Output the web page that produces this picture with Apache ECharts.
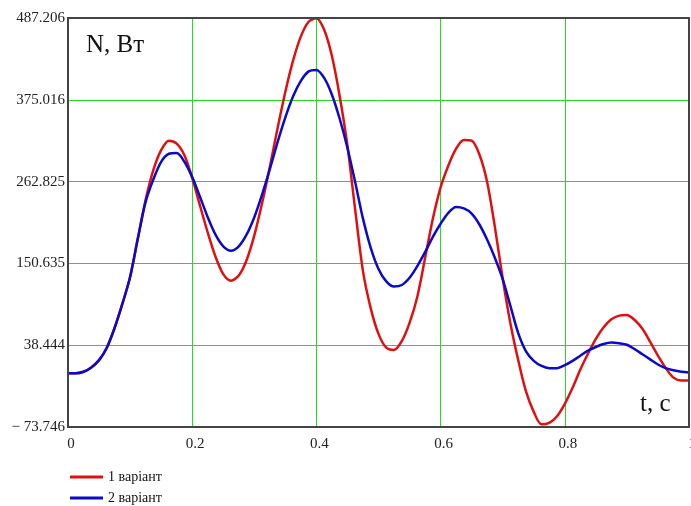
<!DOCTYPE html>
<html>
<head>
<meta charset="utf-8">
<script src="https://cdn.jsdelivr.net/npm/echarts@6/dist/echarts.min.js"></script>
<style>
  html, body { margin: 0; padding: 0; background: #fff; }
  #main { width: 691px; height: 506px; }
</style>
</head>
<body>
<div id="main"></div>
<script>
// t, c
const tValues = [0, 0.0125, 0.025, 0.0375, 0.05, 0.0625, 0.075, 0.0875, 0.1, 0.1125,
  0.125, 0.1375, 0.15, 0.1625, 0.175, 0.1875, 0.2, 0.2125, 0.225, 0.2375,
  0.25, 0.2625, 0.275, 0.2875, 0.3, 0.3125, 0.325, 0.3375, 0.35, 0.3625,
  0.375, 0.3875, 0.4, 0.4125, 0.425, 0.4375, 0.45, 0.4625, 0.475, 0.4875,
  0.5, 0.5125, 0.525, 0.5375, 0.55, 0.5625, 0.575, 0.5875, 0.6, 0.6125,
  0.625, 0.6375, 0.65, 0.6625, 0.675, 0.6875, 0.7, 0.7125, 0.725, 0.7375,
  0.75, 0.7625, 0.775, 0.7875, 0.8, 0.8125, 0.825, 0.8375, 0.85, 0.8625,
  0.875, 0.8875, 0.9, 0.9125, 0.925, 0.9375, 0.95, 0.9625, 0.975, 0.9875, 1];

// N, Вт — 1 варіант
const variant1 = [0, 0, 2, 8, 18, 35, 62, 95, 132, 185,
  238, 279, 306, 319, 315, 299, 268, 230, 193, 160,
  136, 127, 134, 155, 189, 233, 283, 336, 386, 429,
  462, 482, 487, 471, 435, 380, 312, 224, 140, 89,
  54, 35, 32, 44, 69, 105, 158, 212, 255, 285,
  308, 320, 319, 300, 262, 200, 130, 68, 18, -25,
  -53, -70, -68, -59, -42, -20, 5, 27, 47, 63,
  74, 79, 80, 73, 61, 43, 24, 7, -6, -10, -10];

// N, Вт — 2 варіант
const variant2 = [0, 0, 2, 8, 18, 35, 62, 95, 132, 185,
  235, 266, 290, 301, 302, 290, 269, 242, 214, 190,
  174, 168, 174, 190, 214, 245, 280, 317, 351, 380,
  401, 414, 416, 405, 382, 349, 309, 262, 212, 172,
  143, 126, 119, 121, 131, 147, 166, 187, 205, 220,
  228, 226, 219, 204, 183, 158, 129, 92, 55, 30,
  17, 10, 7, 7, 11, 17, 24, 31, 36, 40,
  42, 41, 39, 33, 26, 19, 12, 7, 4, 2, 1];

const seriesNames = ['1 варіант', '2 варіант'];
const yTickValues = [-73.746, 38.444, 150.635, 262.825, 375.016, 487.206];
const yTickLabels = ['\u2212 73.746', '38.444', '150.635', '262.825', '375.016', '487.206'];
const xTickValues = [0, 0.2, 0.4, 0.6, 0.8, 1];

const chart = echarts.init(document.getElementById('main'), null, { renderer: 'canvas' });

const serif = 'Liberation Serif';
const gridGreen = '#22dd22';

function pairs(values) {
  return tValues.map((t, i) => [t, values[i]]);
}

const option = {
  backgroundColor: '#fff',
  animation: false,
  grid: {
    left: 68,
    top: 18,
    width: 621,
    height: 409,
    outerBoundsMode: 'none',
    show: true,
    borderColor: '#444',
    borderWidth: 2,
    backgroundColor: 'transparent',
    z: 5
  },
  legend: {
    orient: 'vertical',
    left: 70,
    top: 470,
    height: 40,
    padding: 0,
    itemGap: 7,
    itemWidth: 33,
    itemHeight: 3,
    icon: 'rect',
    data: seriesNames,
    textStyle: {
      fontFamily: serif,
      fontSize: 14,
      color: '#111'
    }
  },
  xAxis: {
    type: 'value',
    min: 0,
    max: 1,
    interval: 0.2,
    axisLine: { show: false },
    axisTick: { show: false },
    axisLabel: {
      fontFamily: serif,
      fontSize: 15,
      color: '#222',
      margin: 10,
      padding: [0, 0, 0, 6],
      customValues: xTickValues
    },
    splitLine: {
      show: true,
      showMinLine: false,
      showMaxLine: false,
      lineStyle: { color: gridGreen, width: 1 }
    }
  },
  yAxis: {
    type: 'value',
    min: yTickValues[0],
    max: yTickValues[yTickValues.length - 1],
    axisLine: { show: false },
    axisTick: { show: false, customValues: yTickValues },
    axisLabel: {
      fontFamily: serif,
      fontSize: 15,
      color: '#222',
      margin: 3,
      customValues: yTickValues,
      formatter: function (v) {
        const i = yTickValues.indexOf(v);
        return i >= 0 ? yTickLabels[i] : '';
      }
    },
    splitLine: {
      show: true,
      showMinLine: false,
      showMaxLine: false,
      lineStyle: { color: gridGreen, width: 1 }
    }
  },
  graphic: [
    {
      type: 'text',
      left: 86,
      top: 33,
      style: { text: 'N, Вт', fontFamily: serif, fontSize: 25, fill: '#111' }
    },
    {
      type: 'text',
      left: 640,
      top: 392,
      style: { text: 't, c', fontFamily: serif, fontSize: 25, fill: '#111' }
    }
  ],
  series: [
    {
      name: seriesNames[0],
      type: 'line',
      data: pairs(variant1),
      smooth: 0.3,
      symbol: 'none',
      clip: true,
      lineStyle: { color: '#e01010', width: 2.5 },
      itemStyle: { color: '#e01010' },
      z: 3
    },
    {
      name: seriesNames[1],
      type: 'line',
      data: pairs(variant2),
      smooth: 0.3,
      symbol: 'none',
      clip: true,
      lineStyle: { color: '#0a0acc', width: 2.5 },
      itemStyle: { color: '#0a0acc' },
      z: 4
    }
  ]
};

chart.setOption(option);
</script>
</body>
</html>
